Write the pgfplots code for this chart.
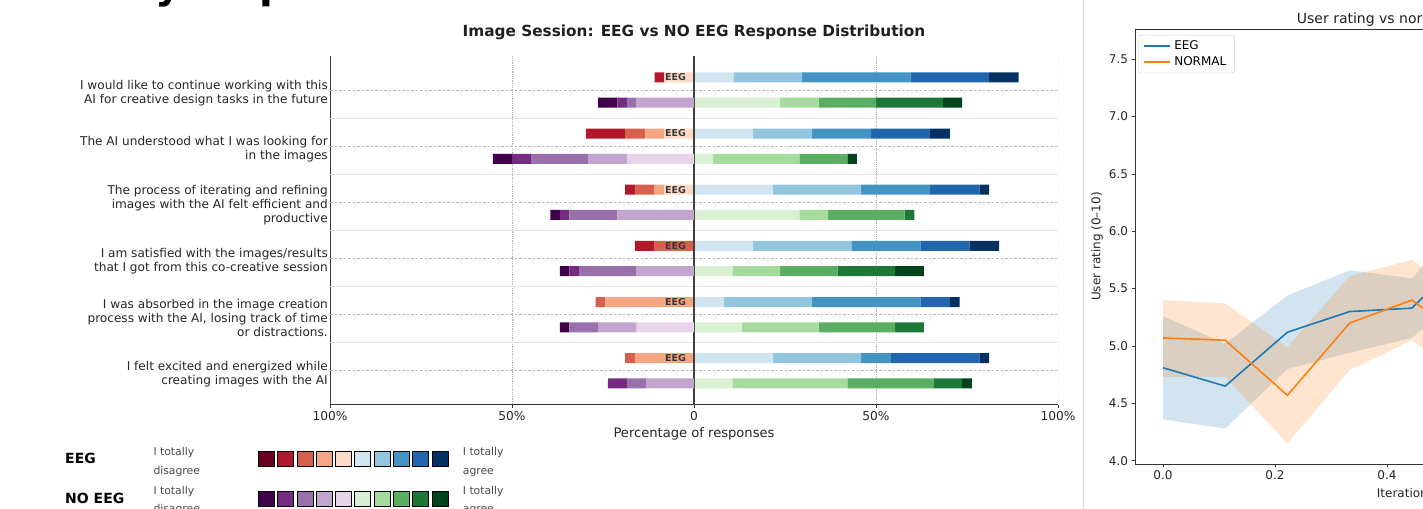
\documentclass[border=0pt]{standalone}
\usepackage{pgfplots}
\pgfplotsset{compat=1.18}
\usepackage{pgfplotstable}
\usepgfplotslibrary{fillbetween}
\usepackage{fontspec}
\setmainfont{DejaVu Sans}

\definecolor{r1}{HTML}{67001F}\definecolor{r2}{HTML}{B2182B}\definecolor{r3}{HTML}{D6604D}
\definecolor{r4}{HTML}{F4A582}\definecolor{r5}{HTML}{FDDBC7}\definecolor{b6}{HTML}{D1E5F0}
\definecolor{b7}{HTML}{92C5DE}\definecolor{b8}{HTML}{4393C3}\definecolor{b9}{HTML}{2166AC}
\definecolor{b10}{HTML}{053061}
\definecolor{p1}{HTML}{40004B}\definecolor{p2}{HTML}{762A83}\definecolor{p3}{HTML}{9970AB}
\definecolor{p4}{HTML}{C2A5CF}\definecolor{p5}{HTML}{E7D4E8}\definecolor{g6}{HTML}{D9F0D3}
\definecolor{g7}{HTML}{A6DBA0}\definecolor{g8}{HTML}{5AAE61}\definecolor{g9}{HTML}{1B7837}
\definecolor{g10}{HTML}{00441B}
\definecolor{mplblue}{HTML}{1F77B4}\definecolor{mplorange}{HTML}{FF7F0E}

\newcommand\fs[2]{\fontsize{#1bp}{#2bp}\selectfont}

% EEG group (n = 37), percentages; levels 1-5 negative (disagree side)
\pgfplotstableread{
y      L1 L2     L3     L4     L5    L6    L7    L8    L9    L10
-0.225 0  -2.70  0      0      -8.11 10.81 18.92 29.73 21.62 8.11
0.775  0  -10.81 -5.41  -5.41  -8.11 16.22 16.22 16.22 16.22 5.41
1.775  0  -2.70  -5.41  -2.70  -8.11 21.62 24.32 18.92 13.51 2.70
2.775  0  -5.41  -10.81 0      0     16.22 27.03 18.92 13.51 8.11
3.775  0  0      -2.70  -24.32 0     8.11  24.32 29.73 8.11  2.70
4.775  0  0      -2.70  -16.22 0     21.62 24.32 8.11  24.32 2.70
}\eeg
% NO EEG group (n = 38)
\pgfplotstableread{
y     L1    L2    L3     L4     L5     L6    L7    L8    L9    L10
0.225 -5.26 -2.63 -2.63  -15.79 0      23.68 10.53 15.79 18.42 5.26
1.225 -5.26 -5.26 -15.79 -10.53 -18.42 5.26  23.68 13.16 0     2.63
2.225 -2.63 -2.63 -13.16 -21.05 0      28.95 7.89  21.05 2.63  0
3.225 -2.63 -2.63 -15.79 -15.79 0      10.53 13.16 15.79 15.79 7.89
4.225 -2.63 0     -7.89  -10.53 -15.79 13.16 21.05 21.05 7.89  0
5.225 0     -5.26 -5.26  -13.16 0      10.53 31.58 23.68 7.89  2.63
}\noeeg
% right panel
\pgfplotstableread{
x      m    lo   hi
0      4.81 4.36 5.26
0.1111 4.65 4.28 5.02
0.2222 5.12 4.80 5.44
0.3333 5.30 4.94 5.66
0.4444 5.33 5.07 5.59
0.5556 5.86 5.52 6.20
}\eegline
\pgfplotstableread{
x      m    lo   hi
0      5.07 4.73 5.40
0.1111 5.05 4.73 5.37
0.2222 4.57 4.15 4.99
0.3333 5.20 4.79 5.61
0.4444 5.40 5.05 5.75
0.5556 5.00 4.62 5.38
}\normline

\pgfplotsset{
  likert/.style={at={(330bp,104.5bp)}, anchor=south west, width=728bp, height=348.2bp,
    scale only axis, xmin=-100, xmax=100, ymin=-0.6, ymax=5.6, y dir=reverse},
  barlayer/.style={likert, hide axis, xbar stacked, bar width=0.178, bar shift=0pt},
}

\begin{document}
\begin{tikzpicture}
% ---------- left chart: base axis ----------
\begin{axis}[likert,
  axis x line*=bottom, axis y line*=left,
  axis line style={black!80, line width=1bp},
  xtick={-100,-50,0,50,100}, xticklabels={100\%,50\%,0,50\%,100\%},
  ytick={0,1,2,3,4,5},
  yticklabels={{I would like to continue working with this\\AI for creative design tasks in the future},
    {The AI understood what I was looking for\\in the images},
    {The process of iterating and refining\\images with the AI felt efficient and\\productive},
    {I am satisfied with the images/results\\that I got from this co-creative session},
    {I was absorbed in the image creation\\process with the AI, losing track of time\\or distractions.},
    {I felt excited and energized while\\creating images with the AI}},
  tick align=outside, major tick length=3.5bp, tick style={black!80, line width=0.8bp},
  ytick style={draw=none},
  xticklabel style={font=\fs{12.2}{14}, text=black!85},
  yticklabel style={font=\fs{12.1}{14}, text=black!85, align=right, inner sep=2bp, xshift=3.5bp, yshift=-3bp},
]
\pgfplotsinvokeforeach{-50,50,100}{\draw[black!30, densely dotted, line width=0.8bp] (axis cs:#1,-0.6) -- (axis cs:#1,5.6);}
\pgfplotsinvokeforeach{0,1,2,3,4,5}{\draw[black!28, dash pattern=on 2.5bp off 2bp, line width=0.7bp] (axis cs:-100,#1) -- (axis cs:100,#1);}
\pgfplotsinvokeforeach{0.5,1.5,2.5,3.5,4.5}{\draw[black!10, line width=1bp] (axis cs:-100,#1) -- (axis cs:100,#1);}
\end{axis}
% EEG agree side
\begin{axis}[barlayer]
\addplot[fill=b6, draw=none] table[x=L6,y=y]{\eeg};
\addplot[fill=b7, draw=none] table[x=L7,y=y]{\eeg};
\addplot[fill=b8, draw=none] table[x=L8,y=y]{\eeg};
\addplot[fill=b9, draw=none] table[x=L9,y=y]{\eeg};
\addplot[fill=b10, draw=none] table[x=L10,y=y]{\eeg};
\end{axis}
% EEG disagree side
\begin{axis}[barlayer]
\addplot[fill=r5, draw=none] table[x=L5,y=y]{\eeg};
\addplot[fill=r4, draw=none] table[x=L4,y=y]{\eeg};
\addplot[fill=r3, draw=none] table[x=L3,y=y]{\eeg};
\addplot[fill=r2, draw=none] table[x=L2,y=y]{\eeg};
\addplot[fill=r1, draw=none] table[x=L1,y=y]{\eeg};
\end{axis}
% NO EEG agree side
\begin{axis}[barlayer]
\addplot[fill=g6, draw=none] table[x=L6,y=y]{\noeeg};
\addplot[fill=g7, draw=none] table[x=L7,y=y]{\noeeg};
\addplot[fill=g8, draw=none] table[x=L8,y=y]{\noeeg};
\addplot[fill=g9, draw=none] table[x=L9,y=y]{\noeeg};
\addplot[fill=g10, draw=none] table[x=L10,y=y]{\noeeg};
\end{axis}
% NO EEG disagree side + zero line + labels
\begin{axis}[barlayer]
\addplot[fill=p5, draw=none] table[x=L5,y=y]{\noeeg};
\addplot[fill=p4, draw=none] table[x=L4,y=y]{\noeeg};
\addplot[fill=p3, draw=none] table[x=L3,y=y]{\noeeg};
\addplot[fill=p2, draw=none] table[x=L2,y=y]{\noeeg};
\addplot[fill=p1, draw=none] table[x=L1,y=y]{\noeeg};
\draw[black!75, line width=1.6bp] (axis cs:0,-0.6) -- (axis cs:0,5.6);
\pgfplotsinvokeforeach{0,1,2,3,4,5}{
  \node[anchor=east, inner sep=0pt, font=\bfseries\fs{9.5}{11}, text=black!78] at (axis cs:-2.2,#1-0.225) {EEG};
  \node[anchor=east, inner sep=0pt, font=\bfseries\fs{9.5}{11}, text=black!78] at (axis cs:-2.2,#1+0.225) {No EEG};
}
\end{axis}

% titles of left chart
\node[anchor=base, font=\bfseries\fs{15.3}{18}, text=black!88] at (694bp,472bp) {Image Session: EEG vs NO EEG Response Distribution};
\node[anchor=base, font=\fs{13.1}{15}, text=black!85] at (694bp,71.8bp) {Percentage of responses};

% colour-scale legend below
\node[anchor=base west, inner sep=0pt, font=\bfseries\fs{14}{16}] at (65bp,45.6bp) {EEG};
\node[anchor=base west, inner sep=0pt, font=\bfseries\fs{14}{16}] at (65bp,5.6bp) {NO EEG};
\foreach \yb/\w in {53/I totally, 34.5/disagree, 14.7/I totally, -3.5/disagree}{
  \node[anchor=base west, inner sep=0pt, font=\fs{10.8}{13}, text=black!70] at (153.3bp,\yb bp) {\w};}
\foreach \yb/\w in {53/I totally, 34.5/agree, 14.7/I totally, -3.5/agree}{
  \node[anchor=base west, inner sep=0pt, font=\fs{10.8}{13}, text=black!70] at (462.7bp,\yb bp) {\w};}
\begin{axis}[at={(256.67bp,-9.7bp)}, anchor=south west, x=19.27bp, y=40bp,
  xmin=-0.5, xmax=9.5, ymin=-0.5, ymax=1.5, hide axis, clip=false,
  every axis plot/.append style={only marks, mark=square*, mark size=8bp}]
\addplot[mark options={draw=none, fill=r1, yscale=0.92}] coordinates {(0,1)};
\addplot[mark options={draw=none, fill=r2, yscale=0.92}] coordinates {(1,1)};
\addplot[mark options={draw=none, fill=r3, yscale=0.92}] coordinates {(2,1)};
\addplot[mark options={draw=none, fill=r4, yscale=0.92}] coordinates {(3,1)};
\addplot[mark options={draw=none, fill=r5, yscale=0.92}] coordinates {(4,1)};
\addplot[mark options={draw=none, fill=b6, yscale=0.92}] coordinates {(5,1)};
\addplot[mark options={draw=none, fill=b7, yscale=0.92}] coordinates {(6,1)};
\addplot[mark options={draw=none, fill=b8, yscale=0.92}] coordinates {(7,1)};
\addplot[mark options={draw=none, fill=b9, yscale=0.92}] coordinates {(8,1)};
\addplot[mark options={draw=none, fill=b10, yscale=0.92}] coordinates {(9,1)};
\addplot[mark options={draw=none, fill=p1, yscale=0.92}] coordinates {(0,0)};
\addplot[mark options={draw=none, fill=p2, yscale=0.92}] coordinates {(1,0)};
\addplot[mark options={draw=none, fill=p3, yscale=0.92}] coordinates {(2,0)};
\addplot[mark options={draw=none, fill=p4, yscale=0.92}] coordinates {(3,0)};
\addplot[mark options={draw=none, fill=p5, yscale=0.92}] coordinates {(4,0)};
\addplot[mark options={draw=none, fill=g6, yscale=0.92}] coordinates {(5,0)};
\addplot[mark options={draw=none, fill=g7, yscale=0.92}] coordinates {(6,0)};
\addplot[mark options={draw=none, fill=g8, yscale=0.92}] coordinates {(7,0)};
\addplot[mark options={draw=none, fill=g9, yscale=0.92}] coordinates {(8,0)};
\addplot[mark options={draw=none, fill=g10, yscale=0.92}] coordinates {(9,0)};
\end{axis}

% cropped big heading fragments at the very top (only descenders show)
\node[anchor=base west, inner sep=0pt, font=\bfseries\fs{40}{48}] at (155bp,510bp) {y};
\node[anchor=base west, inner sep=0pt, font=\bfseries\fs{40}{48}] at (259bp,510bp) {p};

% ---------- right panel ----------
\draw[black!15, line width=1bp] (1083bp,0bp) -- (1083bp,509bp);
\begin{axis}[at={(1135bp,45bp)}, anchor=south west, width=616bp, height=434.7bp, scale only axis,
  xmin=-0.05, xmax=1.05, ymin=3.971, ymax=7.761,
  xtick={0,0.2,0.4,0.6,0.8,1}, xticklabels={0.0,0.2,0.4,0.6,0.8,1.0},
  ytick={4,4.5,5,5.5,6,6.5,7,7.5}, yticklabels={4.0,4.5,5.0,5.5,6.0,6.5,7.0,7.5},
  tick pos=left, tick align=outside, major tick length=3.5bp, tick style={black!80, line width=0.8bp},
  axis line style={black!80, line width=0.8bp},
  ticklabel style={font=\fs{12}{14}, text=black!85},
  legend style={at={(axis description cs:0,1)}, anchor=north west, xshift=3.5bp, yshift=-5.7bp,
    draw=black!20, rounded corners=2bp, fill=white, font=\fs{12}{14}, inner xsep=4bp, inner ysep=4.5bp,
    row sep=4bp, nodes={inner xsep=4bp, inner ysep=1bp}},
  legend cell align=left,
  legend image code/.code={\draw[#1] (0bp,0bp) -- (26bp,0bp);},
]
\addplot[name path=eh, draw=none, forget plot] table[x=x,y=hi]{\eegline};
\addplot[name path=el, draw=none, forget plot] table[x=x,y=lo]{\eegline};
\addplot[fill=mplblue, fill opacity=0.2, forget plot] fill between[of=eh and el];
\addplot[name path=nh, draw=none, forget plot] table[x=x,y=hi]{\normline};
\addplot[name path=nl, draw=none, forget plot] table[x=x,y=lo]{\normline};
\addplot[fill=mplorange, fill opacity=0.2, forget plot] fill between[of=nh and nl];
\addplot[mplblue, line width=1.6bp] table[x=x,y=m]{\eegline};
\addlegendentry{EEG}
\addplot[mplorange, line width=1.6bp] table[x=x,y=m]{\normline};
\addlegendentry{NORMAL}
\end{axis}
\node[anchor=base west, inner sep=0pt, font=\fs{14}{16}, text=black!88] at (1296.7bp,485bp) {User rating vs normalized iteration (mean $\pm$ CI)};
\node[anchor=base west, inner sep=0pt, font=\fs{12}{14}, text=black!85] at (1376.7bp,11.6bp) {Iteration (normalized)};
\node[rotate=90, font=\fs{12}{14}, text=black!85] at (1097bp,262.5bp) {User rating (0--10)};

\pgfresetboundingbox
\path[use as bounding box] (0bp,0bp) rectangle (1423bp,509bp);
\end{tikzpicture}
\end{document}
